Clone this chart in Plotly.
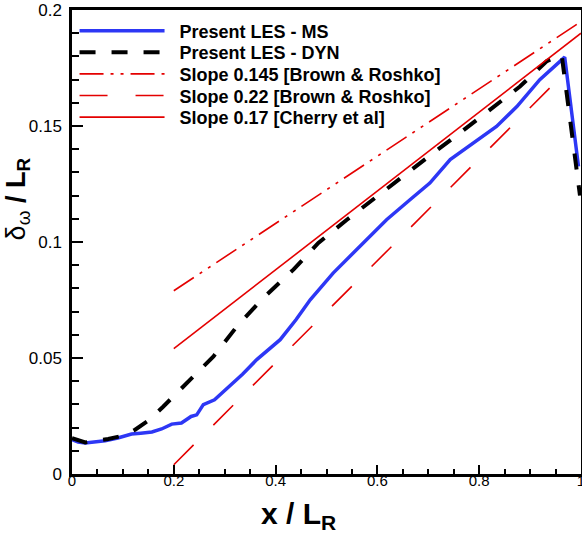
import plotly.graph_objects as go

# ---- data ----
ms_x = [0.0, 0.012, 0.026, 0.045, 0.065, 0.09, 0.117, 0.135, 0.157, 0.176, 0.196, 0.215,
        0.234, 0.245, 0.258, 0.28, 0.31, 0.335, 0.363, 0.385, 0.409, 0.44, 0.468, 0.513,
        0.566, 0.618, 0.664, 0.703, 0.743, 0.788, 0.834, 0.874, 0.919, 0.968, 0.995]
ms_y = [0.0148, 0.0138, 0.0134, 0.0138, 0.0143, 0.0155, 0.0172, 0.0176, 0.0181, 0.0194, 0.0215, 0.0220,
        0.0248, 0.0255, 0.0299, 0.0320, 0.0378, 0.0430, 0.0493, 0.0535, 0.0579, 0.0665, 0.0751, 0.0866,
        0.0981, 0.1096, 0.1182, 0.1254, 0.1355, 0.1427, 0.1498, 0.1584, 0.1700, 0.1797, 0.1326]

dyn_x = [0.0, 0.026, 0.071, 0.10, 0.124, 0.15, 0.179, 0.222, 0.278, 0.324, 0.376, 0.435,
         0.484, 0.540, 0.599, 0.654, 0.710, 0.762, 0.821, 0.880, 0.933, 0.962, 0.998]
dyn_y = [0.0155, 0.0136, 0.0151, 0.0165, 0.0191, 0.0230, 0.0290, 0.0385, 0.0507, 0.0636, 0.0759, 0.0881,
         0.0996, 0.1096, 0.1197, 0.1290, 0.1384, 0.1470, 0.1570, 0.1670, 0.1780, 0.1807, 0.1200]

slope145_x = [0.2, 1.0]
slope145_y = [0.079, 0.195]
slope22_x = [0.2, 0.955]
slope22_y = [0.004, 0.170]
slope17_x = [0.2, 1.0]
slope17_y = [0.054, 0.190]

names = ["Present LES - MS", "Present LES - DYN", "Slope 0.145 [Brown & Roshko]",
         "Slope 0.22 [Brown & Roshko]", "Slope 0.17 [Cherry et al]"]

x_ticks = [0, 0.2, 0.4, 0.6, 0.8, 1]
x_tick_labels = ["0", "0.2", "0.4", "0.6", "0.8", "1"]
y_ticks = [0, 0.05, 0.1, 0.15, 0.2]
y_tick_labels = ["0", "0.05", "0.1", "0.15", "0.2"]

RED = "rgb(228,0,0)"
BLUE = "rgb(45,55,245)"

# one legend per entry so rows can sit at the reference spacing
legend_ids = ["legend", "legend2", "legend3", "legend4", "legend5"]
PAD = "\u00a0\u00a0"

fig = go.Figure()
fig.add_trace(go.Scatter(x=ms_x, y=ms_y, mode="lines", name=PAD + names[0], legend=legend_ids[0],
                         line=dict(color=BLUE, width=3.5)))
fig.add_trace(go.Scatter(x=dyn_x, y=dyn_y, mode="lines", name=PAD + names[1], legend=legend_ids[1],
                         line=dict(color="black", width=4, dash="16px,16px")))
fig.add_trace(go.Scatter(x=slope145_x, y=slope145_y, mode="lines", name=PAD + names[2], legend=legend_ids[2],
                         line=dict(color=RED, width=1.6, dash="24px,7px,3px,7px,3px,7px")))
fig.add_trace(go.Scatter(x=slope22_x, y=slope22_y, mode="lines", name=PAD + names[3], legend=legend_ids[3],
                         line=dict(color=RED, width=1.6, dash="28px,28px")))
fig.add_trace(go.Scatter(x=slope17_x, y=slope17_y, mode="lines", name=PAD + names[4], legend=legend_ids[4],
                         line=dict(color=RED, width=1.6)))

axis_common = dict(showgrid=False, zeroline=False, showline=True, linecolor="black",
                   linewidth=2.5, mirror=True, ticks="inside", tickcolor="black",
                   tickwidth=2, automargin=False, ticklabeloverflow="allow")

fig.update_xaxes(range=[0, 1], tickvals=x_ticks, ticktext=x_tick_labels,
                 ticklen=9, ticklabelstandoff=-9,
                 tickfont=dict(family="Liberation Sans, Arial", size=15, color="black"),
                 minor=dict(dtick=0.05, tick0=0, ticks="inside", ticklen=5, tickwidth=1.5,
                            tickcolor="black"),
                 **axis_common)
fig.update_yaxes(range=[0, 0.2], tickvals=y_ticks, ticktext=y_tick_labels,
                 ticklen=11, ticklabelstandoff=4,
                 tickfont=dict(family="Liberation Sans, Arial", size=17, color="black"),
                 minor=dict(dtick=0.01, tick0=0, ticks="inside", ticklen=7, tickwidth=1.5,
                            tickcolor="black"),
                 **axis_common)

fig.add_annotation(text="<b>x / L<sub>R</sub></b>", xref="paper", yref="paper",
                   x=0.445, y=-0.045, xanchor="center", yanchor="top", showarrow=False,
                   font=dict(family="Liberation Sans, Arial", size=30, color="black"))
fig.add_annotation(text="δ<sub>ω</sub><b> / L<sub>R</sub></b>", xref="paper", yref="paper",
                   x=-0.107, y=0.593, xanchor="center", yanchor="middle", showarrow=False,
                   textangle=-90,
                   font=dict(family="Liberation Sans, Arial", size=27, color="black"))

legend_font = dict(family="Liberation Sans, Arial", size=18, color="black", weight="bold")
row_px = [31, 52.6, 74.2, 95.8, 117.4]
plot_top, plot_h = 10, 464
legend_layout = {}
for lid, py in zip(legend_ids, row_px):
    legend_layout[lid] = dict(x=0.005, y=(plot_top + plot_h - py) / plot_h,
                              xanchor="left", yanchor="middle",
                              bgcolor="rgba(0,0,0,0)", borderwidth=0, itemwidth=85,
                              font=legend_font)

fig.update_layout(
    width=582, height=538,
    margin=dict(l=72, r=1, t=10, b=64),
    paper_bgcolor="white", plot_bgcolor="white",
    showlegend=True,
    **legend_layout,
)

fig.write_html("out.html", config={"displayModeBar": False},
               post_script="document.body.style.margin='0';document.body.style.overflow='hidden';")
